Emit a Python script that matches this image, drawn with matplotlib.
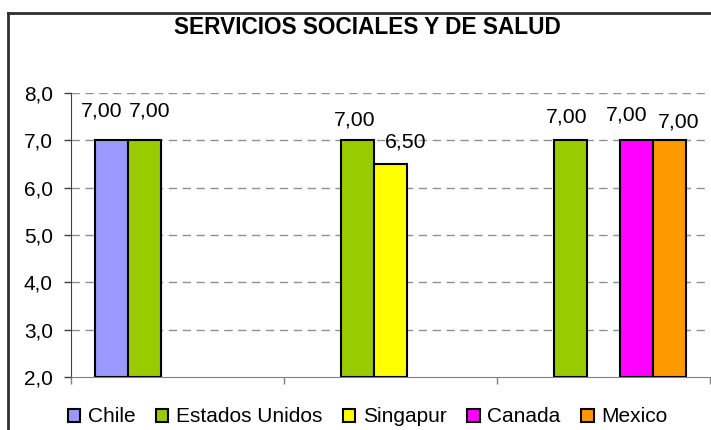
import numpy as np
import matplotlib
matplotlib.use("Agg")
import matplotlib.pyplot as plt
from matplotlib.lines import Line2D
from matplotlib.ticker import FuncFormatter

plt.rcParams['font.family'] = ['Liberation Sans', 'DejaVu Sans']

# data (three unlabeled groups, five countries)
categories = ['', '', '']
series_names = ['Chile', 'Estados Unidos', 'Singapur', 'Canada', 'Mexico']
chile = [7.0, np.nan, np.nan]
estados_unidos = [7.0, 7.0, 7.0]
singapur = [np.nan, 6.5, np.nan]
canada = [np.nan, np.nan, 7.0]
mexico = [np.nan, np.nan, 7.0]
series = [chile, estados_unidos, singapur, canada, mexico]
colors = ['#9999FF', '#99CC00', '#FFFF00', '#FF00FF', '#FF9900']

# label nudges in pixels (dx, dy), keyed by (series, group)
label_offsets = {
    (0, 0): (-10, 29), (1, 0): (5, 29),
    (1, 1): (-3, 20), (2, 1): (15, 22),
    (1, 2): (-4, 23), (3, 2): (-10, 25), (4, 2): (10, 18),
}

fig = plt.figure(figsize=(7.11, 4.30), dpi=100)
ax = fig.add_axes([71 / 711, 1 - 377 / 430, 639 / 711, 284 / 430])

x = np.arange(len(categories))
width = 0.154
handles = []
for i, (vals, name, col) in enumerate(zip(series, series_names, colors)):
    vals = np.array(vals)
    pos = x + (i - 2) * width
    ok = ~np.isnan(vals)
    bars = ax.bar(pos[ok], vals[ok] - 2.0, width, bottom=2.0, color=col,
                  edgecolor='black', linewidth=1.5, zorder=3, label=name)
    handles.append(bars)
    for p, v, g in zip(pos[ok], vals[ok], x[ok]):
        dx, dy = label_offsets.get((i, g), (0, 22))
        ax.annotate(f"{v:.2f}".replace('.', ','), (p, v), xytext=(dx, dy),
                    textcoords='offset pixels', ha='center', va='center',
                    fontsize=15.3, zorder=4)

ax.set_ylim(2, 8)
ax.set_xlim(-0.5, 2.5)
ax.set_yticks(np.arange(2, 9, 1))
ax.yaxis.set_major_formatter(FuncFormatter(lambda v, p: f"{v:.1f}".replace('.', ',')))
ax.set_xticks([-0.5, 0.5, 1.5, 2.5])
ax.set_xticklabels([])
ax.tick_params(axis='y', labelsize=15, length=5, width=1, color='#404040', pad=8)
ax.tick_params(axis='x', length=5, width=1, color='#808080')

for y in range(3, 9):
    ax.axhline(y, color='#909090', linewidth=1, linestyle=(0, (6, 4)), zorder=1)

for s in ['top', 'right']:
    ax.spines[s].set_visible(False)
ax.spines['left'].set_color('#404040')
ax.spines['bottom'].set_color('#808080')

fig.text(367 / 711, 1 - 28 / 430, 'SERVICIOS SOCIALES Y DE SALUD',
         ha='center', va='center', fontsize=16.3, fontweight='bold')

fig.legend(handles=handles, labels=series_names, loc='center',
           bbox_to_anchor=(367.5 / 711, 1 - 417 / 430), ncol=5, frameon=False,
           fontsize=15, handlelength=0.6, handleheight=0.6, handletextpad=0.35,
           columnspacing=1.0, borderaxespad=0)

# outer chart border (runs off the right and bottom edges)
fig.add_artist(Line2D([8 / 711, 8 / 711], [-0.1, 1 - 13 / 430], color='#303030', linewidth=2))
fig.add_artist(Line2D([8 / 711, 1.1], [1 - 13 / 430, 1 - 13 / 430], color='#303030', linewidth=2))

fig.savefig('out.png', dpi=100)
